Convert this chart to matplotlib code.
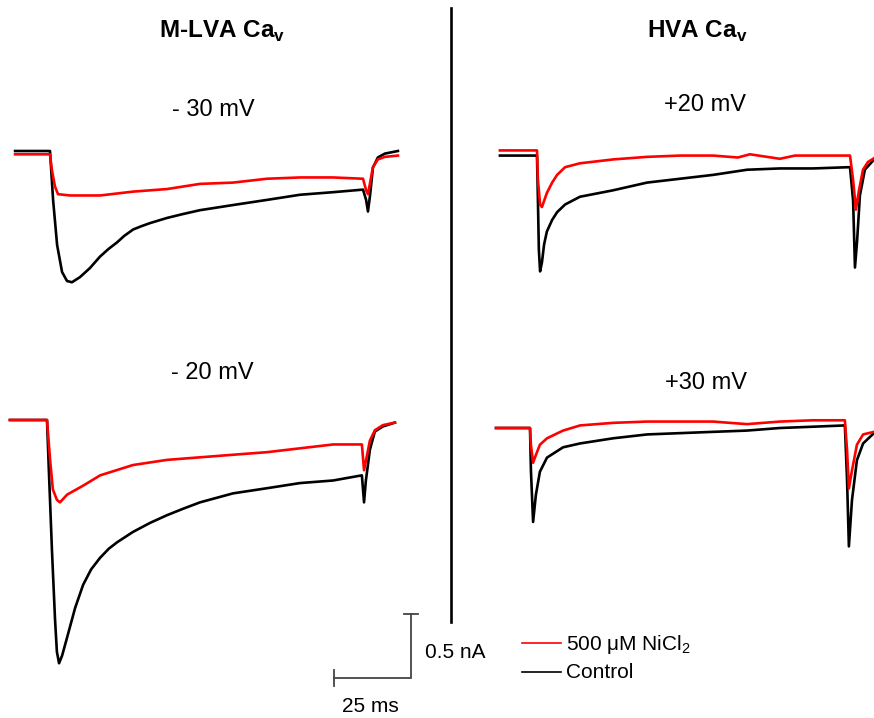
import matplotlib
matplotlib.use("Agg")
import matplotlib.pyplot as plt
from matplotlib.lines import Line2D

plt.rcParams['font.family'] = ['Liberation Sans', 'DejaVu Sans']
plt.rcParams['mathtext.fontset'] = 'custom'
plt.rcParams['mathtext.rm'] = 'Liberation Sans'
plt.rcParams['mathtext.bf'] = 'Liberation Sans:bold'

# DATA - time in ms from pulse onset, current in nA from baseline
# -30 mV (M-LVA)
t_m30_ctl = [-11.3, 0, 1.0, 2.3, 3.9, 5.5, 7.1, 9.7, 12.9, 16.2, 19.0, 21.7, 24.0, 26.9, 29.5, 32.4, 37.9, 43.0, 48.5,
             59.2, 70.2, 80.9, 91.6, 101.3, 102.3, 102.9, 103.6, 104.5, 106.1, 108.4, 112.6]
i_m30_ctl = [0, 0, -0.38, -0.73, -0.94, -1.01, -1.02, -0.98, -0.91, -0.82, -0.76, -0.71, -0.66, -0.61, -0.585, -0.56, -0.52, -0.49, -0.46,
             -0.42, -0.38, -0.34, -0.32, -0.30, -0.38, -0.47, -0.34, -0.13, -0.05, -0.02, 0]
t_m30_ni = [-11.3, 0, 0.6, 1.6, 2.6, 6.5, 16.2, 26.9, 37.9, 48.5, 59.2, 70.2, 80.9, 91.6,
            101.3, 102.3, 102.9, 103.6, 104.5, 106.1, 108.4, 112.6]
i_m30_ni = [-0.01, -0.01, -0.13, -0.26, -0.32, -0.33, -0.33, -0.30, -0.28, -0.24, -0.23, -0.20, -0.19, -0.19,
            -0.20, -0.29, -0.32, -0.23, -0.11, -0.05, -0.03, -0.02]

# -20 mV (M-LVA)
t_m20_ctl = [-12.0, 0, 0.6, 1.6, 2.6, 3.2, 3.9, 4.9, 6.5, 9.1, 11.7, 14.3, 17.2, 20.0, 22.7, 27.8, 33.3, 38.8, 44.0, 49.5,
             60.2, 71.2, 81.9, 92.6, 101.9, 102.6, 103.2, 104.5, 106.1, 108.7, 112.6]
i_m20_ctl = [0, 0, -0.39, -1.01, -1.55, -1.80, -1.89, -1.83, -1.69, -1.46, -1.28, -1.16, -1.07, -1.00, -0.95, -0.87, -0.80, -0.74, -0.69, -0.64,
             -0.57, -0.53, -0.49, -0.47, -0.43, -0.64, -0.47, -0.23, -0.09, -0.05, -0.02]
t_m20_ni = [-12.0, 0, 1.0, 1.9, 3.2, 4.2, 6.5, 11.7, 17.2, 27.8, 38.8, 49.5, 60.2, 71.2, 81.9, 92.6,
            101.9, 102.6, 103.6, 104.5, 106.1, 108.7, 112.6]
i_m20_ni = [0, 0, -0.31, -0.54, -0.62, -0.64, -0.58, -0.51, -0.43, -0.35, -0.31, -0.29, -0.27, -0.25, -0.22, -0.19,
            -0.19, -0.39, -0.27, -0.16, -0.08, -0.04, -0.02]

# +20 mV (HVA)
t_p20_ctl = [-12.0, 0, 0.3, 0.6, 1.0, 1.6, 2.3, 3.2, 4.9, 6.5, 9.1, 13.9, 24.6, 35.6, 46.3, 57.0,
             68.0, 78.6, 89.3, 101.3, 102.3, 102.9, 103.6, 104.5, 106.1, 109.1]
i_p20_ctl = [-0.02, -0.02, -0.37, -0.75, -0.92, -0.85, -0.71, -0.61, -0.52, -0.46, -0.40, -0.34, -0.29, -0.23, -0.20, -0.17,
             -0.13, -0.12, -0.12, -0.11, -0.37, -0.89, -0.68, -0.33, -0.13, -0.05]
t_p20_ni = [-12.0, 0, 0.3, 1.0, 1.6, 3.2, 4.9, 6.5, 9.1, 13.9, 24.6, 35.6, 46.3, 57.0, 65.0, 68.9,
            78.6, 83.5, 89.3, 101.3, 102.3, 103.2, 104.2, 105.5, 107.1, 109.1]
i_p20_ni = [0.02, 0.02, -0.21, -0.40, -0.42, -0.31, -0.23, -0.17, -0.11, -0.08, -0.05, -0.03, -0.02, -0.02, -0.035, -0.01,
            -0.045, -0.02, -0.02, -0.02, -0.21, -0.44, -0.29, -0.13, -0.07, -0.04]

# +30 mV (HVA)
t_p30 = [-11.0, 0, 0.3, 1.0, 1.9, 3.2, 5.5, 10.7, 16.2, 26.9, 37.9, 48.5, 59.2, 70.2, 80.9, 91.6,
         101.9, 102.6, 103.2, 104.2, 105.8, 107.8, 111.3]
i_p30_ctl = [0, 0, -0.33, -0.73, -0.52, -0.34, -0.23, -0.15, -0.12, -0.08, -0.05, -0.04, -0.03, -0.02, 0, 0.01,
             0.02, -0.40, -0.92, -0.56, -0.25, -0.12, -0.04]
i_p30_ni = [0, 0, -0.13, -0.27, -0.21, -0.13, -0.08, -0.02, 0.02, 0.04, 0.05, 0.05, 0.05, 0.03, 0.05, 0.06,
            0.06, -0.17, -0.47, -0.33, -0.13, -0.05, -0.03]

# LAYOUT (pixels)
W, H = 874, 718
PX_MS = 3.09     # pixels per ms
PX_NA = 128.7    # pixels per nA
RED = '#ff0000'

fig = plt.figure(figsize=(W / 100, H / 100), dpi=100)
ax = fig.add_axes([0, 0, 1, 1])
ax.set_xlim(0, W / PX_MS)
ax.set_ylim(-H / PX_NA, 0)
ax.axis('off')

def place(t, i, onset_px, base_px, color, z):
    x = [v + onset_px / PX_MS for v in t]
    y = [v - base_px / PX_NA for v in i]
    ax.plot(x, y, color=color, lw=1.9, solid_joinstyle='round', zorder=z)

# (onset x, baseline y) of each panel
place(t_m30_ctl, i_m30_ctl, 50, 151, 'black', 2)
place(t_m30_ni, i_m30_ni, 50, 153, RED, 3)
place(t_m20_ctl, i_m20_ctl, 47, 420, 'black', 2)
place(t_m20_ni, i_m20_ni, 47, 420, RED, 3)
place(t_p20_ctl, i_p20_ctl, 537, 153, 'black', 2)
place(t_p20_ni, i_p20_ni, 537, 153, RED, 3)
place(t_p30, i_p30_ctl, 530, 428, 'black', 2)
place(t_p30, i_p30_ni, 530, 428, RED, 3)

def fx(px):
    return px / W

def fy(py):
    return 1 - py / H

# titles / labels
fig.text(fx(222), fy(31), r'M-LVA Ca$_\mathbf{v}$', fontsize=17.5, fontweight='bold', ha='center', va='center')
fig.text(fx(697), fy(31), r'HVA Ca$_\mathbf{v}$', fontsize=17.5, fontweight='bold', ha='center', va='center')
fig.text(fx(213), fy(110), '- 30 mV', fontsize=17, ha='center', va='center')
fig.text(fx(705), fy(105), '+20 mV', fontsize=17, ha='center', va='center')
fig.text(fx(212), fy(373), '- 20 mV', fontsize=17, ha='center', va='center')
fig.text(fx(706), fy(383), '+30 mV', fontsize=17, ha='center', va='center')

# divider
fig.add_artist(Line2D([fx(451), fx(451)], [fy(8), fy(622)], color='black', lw=1.9))

# scale bars: 25 ms and 0.5 nA
cx, cy = 411 / PX_MS, -678 / PX_NA
sb = '#444444'
ax.plot([cx - 25, cx, cx], [cy, cy, cy + 0.5], color=sb, lw=1.3, solid_joinstyle='miter')
ax.plot([cx - 25, cx - 25], [cy - 0.06, cy + 0.06], color=sb, lw=1.3)
ax.plot([cx - 2.4, cx + 2.4], [cy + 0.5, cy + 0.5], color=sb, lw=1.3)
fig.text(fx(425), fy(652), '0.5 nA', fontsize=15, ha='left', va='center')
fig.text(fx(342), fy(707), '25 ms', fontsize=15, ha='left', va='center')

# legend
fig.add_artist(Line2D([fx(522), fx(561)], [fy(643), fy(643)], color=RED, lw=1.2))
fig.add_artist(Line2D([fx(522), fx(561)], [fy(672), fy(672)], color='black', lw=1.2))
fig.text(fx(566), fy(645), r'500 $\mathregular{\mu}$M NiCl$_\mathregular{2}$', fontsize=15, ha='left', va='center')
fig.text(fx(566), fy(672), 'Control', fontsize=15, ha='left', va='center')

fig.savefig('out.png', dpi=100)
